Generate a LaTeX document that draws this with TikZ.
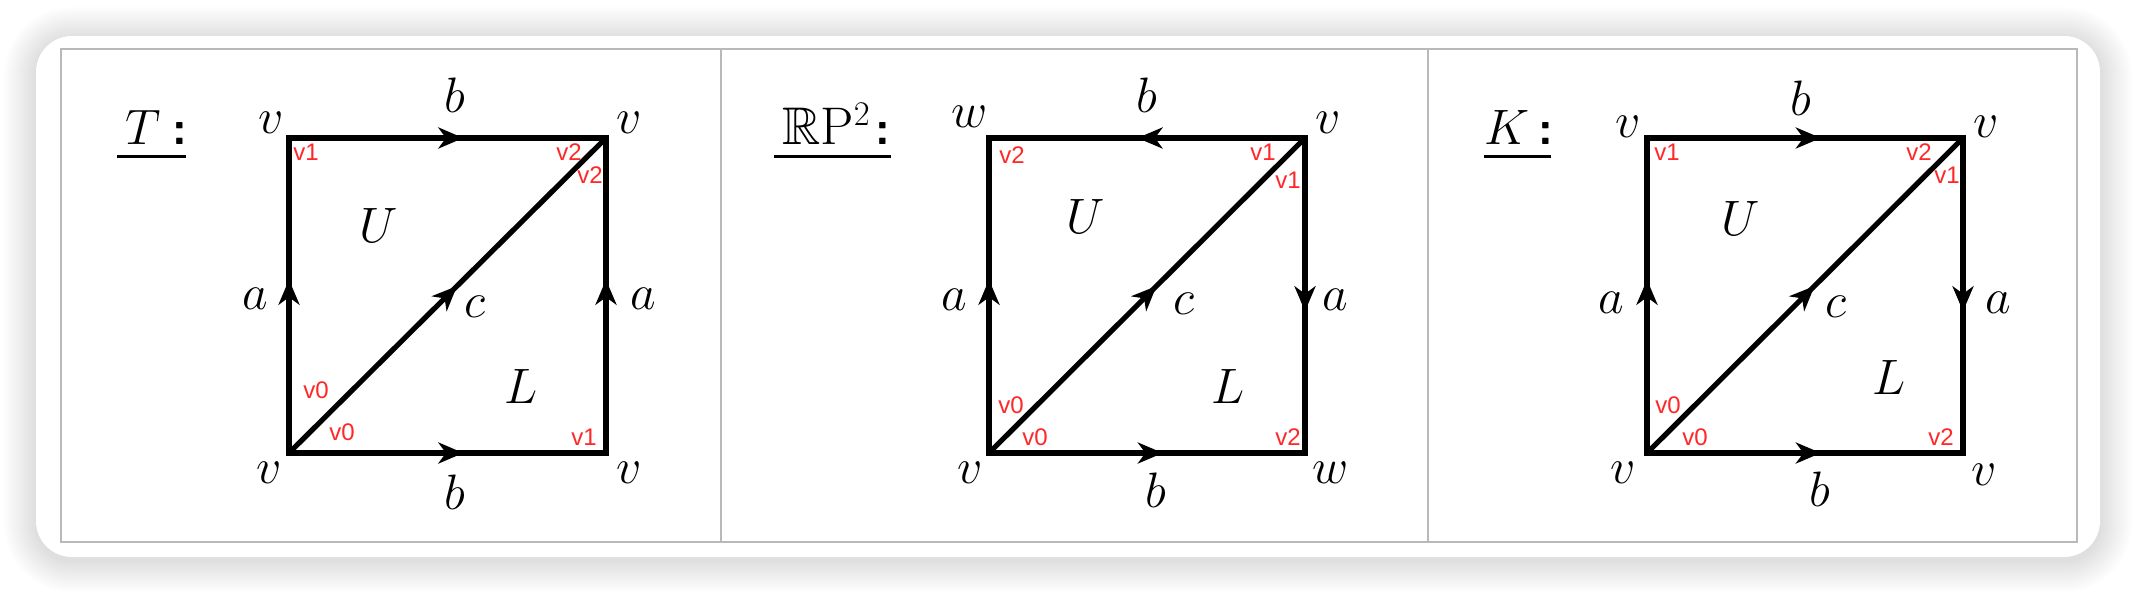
\documentclass[tikz,border=0pt]{standalone}
\usepackage{amssymb}
\usepackage{fontspec}
\newfontfamily\redfont{Liberation Sans}
\usetikzlibrary{arrows.meta,decorations.markings}
\definecolor{lbl}{RGB}{255,40,40}
\definecolor{framegray}{RGB}{185,185,185}
\begin{document}
\begin{tikzpicture}[x=0.5pt,y=-0.5pt,
  edge/.style={line width=2.6pt, line cap=rect},
  diag/.style={line width=2.6pt},
  midarrow/.style={postaction={decorate,decoration={markings,mark=at position #1 with {\arrow{Stealth[length=12.5pt,width=10.5pt,inset=3.8pt]}}}}},
  lab/.style={font=\fontsize{26.5}{30}\selectfont, inner sep=0pt},
  vl/.style={font=\redfont\fontsize{12}{14}\selectfont, text=lbl, inner sep=0pt},
  ttl/.style={font=\fontsize{26.5}{30}\selectfont, inner sep=0pt, anchor=base west},
  colonfont/.style={font=\sffamily\bfseries\fontsize{24}{30}\selectfont, inner sep=0pt, anchor=base west},
  uline/.style={line width=1.5pt}]
\useasboundingbox (0,0) rectangle (2136,594);
% background and card
\fill[white] (0,0) rectangle (2136,594);
\foreach \i in {1,...,16}
  \fill[black, opacity=0.008, rounded corners={18pt+\i*1pt}] ({36-\i*2},{36-\i*2+3}) rectangle ({2100+\i*2},{557+\i*2+3});
\fill[white, rounded corners=18pt] (36,36) rectangle (2100,557);
\draw[framegray, line width=1pt] (61,49) rectangle (2077,542);
\draw[framegray, line width=1pt] (721,49) -- (721,542);
\draw[framegray, line width=1pt] (1428,49) -- (1428,542);

%%%%% Panel T
\node[ttl] (tT) at (125,144) {$T$};
\node[colonfont] (tC) at (172,144) {:};
\draw[uline] (117,156) -- (186,156);
\coordinate (t-tl) at (289,138);
\coordinate (t-tr) at (606,138);
\coordinate (t-bl) at (289,453);
\coordinate (t-br) at (606,453);
\draw[edge, midarrow=0.55] (t-bl) -- (t-tl);
\draw[edge, midarrow=0.55] (t-br) -- (t-tr);
\draw[edge, midarrow=0.55] (t-tl) -- (t-tr);
\draw[edge, midarrow=0.55] (t-bl) -- (t-br);
\draw[diag, midarrow=0.53] (t-bl) -- (t-tr);
\node[lab] (t-v1) at (271,123) {$v$};
\node[lab] (t-b1) at (455,95) {$b$};
\node[lab] (t-v2) at (629,123) {$v$};
\node[lab] (t-a1) at (255,299) {$a$};
\node[lab] (t-a2) at (643,299) {$a$};
\node[lab] (t-c) at (475,307) {$c$};
\node[lab] (t-U) at (379,225) {$U$};
\node[lab] (t-L) at (521,386) {$L$};
\node[lab] (t-v3) at (269,473) {$v$};
\node[lab] (t-b2) at (455,492) {$b$};
\node[lab] (t-v4) at (629,473) {$v$};
\node[vl] (t-r1) at (306,152) {v1};
\node[vl] (t-r2) at (569,152) {v2};
\node[vl] (t-r3) at (590,175) {v2};
\node[vl] (t-r4) at (316,390) {v0};
\node[vl] (t-r5) at (342,432) {v0};
\node[vl] (t-r6) at (584,437) {v1};

%%%%% Panel RP2
\node[ttl] (rT) at (782,144) {$\mathbb{R}\mathrm{P}^{2}$};
\node[colonfont] (rC) at (875,144) {:};
\draw[uline] (774,156) -- (891,156);
\coordinate (r-tl) at (989,138);
\coordinate (r-tr) at (1305,138);
\coordinate (r-bl) at (989,453);
\coordinate (r-br) at (1305,453);
\draw[edge, midarrow=0.55] (r-bl) -- (r-tl);
\draw[edge, midarrow=0.55] (r-tr) -- (r-br);
\draw[edge, midarrow=0.53] (r-tr) -- (r-tl);
\draw[edge, midarrow=0.55] (r-bl) -- (r-br);
\draw[diag, midarrow=0.53] (r-bl) -- (r-tr);
\node[lab] (r-w1) at (970,117) {$w$};
\node[lab] (r-b1) at (1147,95) {$b$};
\node[lab] (r-v1) at (1328,123) {$v$};
\node[lab] (r-a1) at (954,300) {$a$};
\node[lab] (r-a2) at (1335,300) {$a$};
\node[lab] (r-c) at (1184,304) {$c$};
\node[lab] (r-U) at (1086,216) {$U$};
\node[lab] (r-L) at (1228,386) {$L$};
\node[lab] (r-v2) at (970,473) {$v$};
\node[lab] (r-b2) at (1156,490) {$b$};
\node[lab] (r-w2) at (1331,473) {$w$};
\node[vl] (r-r1) at (1012,155) {v2};
\node[vl] (r-r2) at (1263,152) {v1};
\node[vl] (r-r3) at (1288,180) {v1};
\node[vl] (r-r4) at (1011,405) {v0};
\node[vl] (r-r5) at (1035,437) {v0};
\node[vl] (r-r6) at (1288,437) {v2};

%%%%% Panel K
\node[ttl] (kT) at (1484,144) {$K$};
\node[colonfont] (kC) at (1538,144) {:};
\draw[uline] (1484,156) -- (1551,156);
\coordinate (k-tl) at (1647,138);
\coordinate (k-tr) at (1963,138);
\coordinate (k-bl) at (1647,453);
\coordinate (k-br) at (1963,453);
\draw[edge, midarrow=0.55] (k-bl) -- (k-tl);
\draw[edge, midarrow=0.55] (k-tr) -- (k-br);
\draw[edge, midarrow=0.55] (k-tl) -- (k-tr);
\draw[edge, midarrow=0.55] (k-bl) -- (k-br);
\draw[diag, midarrow=0.53] (k-bl) -- (k-tr);
\node[lab] (k-v1) at (1628,127) {$v$};
\node[lab] (k-b1) at (1801,98) {$b$};
\node[lab] (k-v2) at (1986,127) {$v$};
\node[lab] (k-a1) at (1611,303) {$a$};
\node[lab] (k-a2) at (1998,303) {$a$};
\node[lab] (k-c) at (1836,307) {$c$};
\node[lab] (k-U) at (1741,218) {$U$};
\node[lab] (k-L) at (1889,377) {$L$};
\node[lab] (k-v3) at (1623,473) {$v$};
\node[lab] (k-b2) at (1820,489) {$b$};
\node[lab] (k-v4) at (1984,475) {$v$};
\node[vl] (k-r1) at (1667,152) {v1};
\node[vl] (k-r2) at (1919,152) {v2};
\node[vl] (k-r3) at (1947,175) {v1};
\node[vl] (k-r4) at (1668,405) {v0};
\node[vl] (k-r5) at (1695,437) {v0};
\node[vl] (k-r6) at (1941,437) {v2};
\end{tikzpicture}
\end{document}
